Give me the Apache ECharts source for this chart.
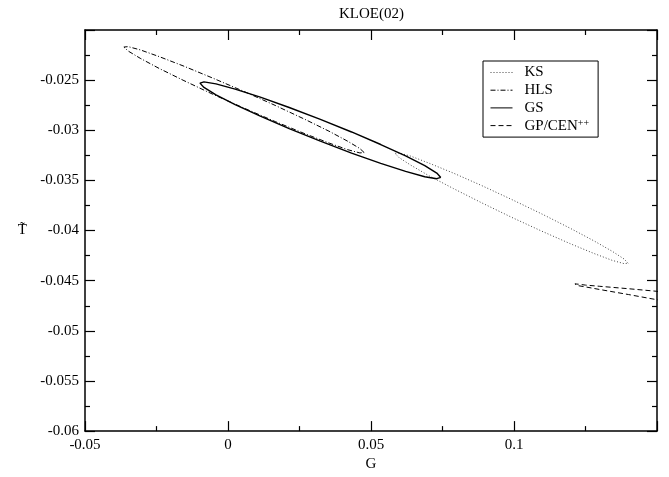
<!DOCTYPE html>
<html>
<head>
<meta charset="utf-8">
<script src="https://cdn.jsdelivr.net/npm/echarts@6/dist/echarts.min.js"></script>
<style>
  html, body { margin: 0; padding: 0; background: #fff; }
  #main { width: 669px; height: 477px; }
</style>
</head>
<body>
<div id="main"></div>
<script>
// contour points [G, T~]
const ksPoints = [
  [0.1399, -0.04326], [0.1385, -0.04284], [0.1344, -0.04208], [0.1279, -0.04102],
  [0.1195, -0.03975], [0.1097, -0.03834], [0.0991, -0.03689], [0.0886, -0.03550],
  [0.0788, -0.03427], [0.0703, -0.03328], [0.0639, -0.03258], [0.0598, -0.03226],
  [0.0584, -0.03230], [0.0598, -0.03272], [0.0639, -0.03348], [0.0703, -0.03454],
  [0.0788, -0.03581], [0.0886, -0.03722], [0.0991, -0.03867], [0.1097, -0.04006],
  [0.1195, -0.04129], [0.1279, -0.04228], [0.1344, -0.04298], [0.1385, -0.04330],
  [0.1399, -0.04326]
]
const hlsPoints = [
  [0.0476, -0.03222], [0.0461, -0.03182], [0.0419, -0.03110], [0.0353, -0.03009],
  [0.0266, -0.02887], [0.0165, -0.02752], [0.0056, -0.02613], [-0.0053, -0.02480],
  [-0.0154, -0.02361], [-0.0241, -0.02265], [-0.0307, -0.02198], [-0.0349, -0.02166],
  [-0.0364, -0.02170], [-0.0349, -0.02210], [-0.0307, -0.02282], [-0.0241, -0.02383],
  [-0.0154, -0.02505], [-0.0053, -0.02641], [0.0056, -0.02779], [0.0165, -0.02913],
  [0.0266, -0.03031], [0.0353, -0.03127], [0.0419, -0.03194], [0.0461, -0.03226],
  [0.0476, -0.03222]
]
const gsPoints = [
  [0.0744, -0.03470], [0.0730, -0.03427], [0.0688, -0.03353], [0.0621, -0.03256],
  [0.0534, -0.03142], [0.0432, -0.03017], [0.0323, -0.02891], [0.0214, -0.02773],
  [0.0113, -0.02670], [0.0025, -0.02590], [-0.0042, -0.02537], [-0.0084, -0.02517],
  [-0.0098, -0.02530], [-0.0084, -0.02573], [-0.0042, -0.02647], [0.0025, -0.02744],
  [0.0113, -0.02858], [0.0214, -0.02983], [0.0323, -0.03109], [0.0432, -0.03227],
  [0.0534, -0.03330], [0.0621, -0.03410], [0.0688, -0.03463], [0.0730, -0.03483],
  [0.0744, -0.03470]
]
// runs past the right edge, clipped by the frame
const gpPoints = [
  [0.17, -0.04655], [0.15, -0.04606], [0.14, -0.04580], [0.13, -0.04556],
  [0.125, -0.04544], [0.1225, -0.04535], [0.1213, -0.04532], [0.1225, -0.04550],
  [0.125, -0.04562], [0.13, -0.04588], [0.14, -0.04638], [0.15, -0.04690],
  [0.17, -0.04770]
]
const seriesNames = ['KS', 'HLS', 'GS', 'GP/CEN++']

const font = 'Liberation Serif'
const chart = echarts.init(document.getElementById('main'))

function frameAxis(pos, showLabel) {
  return {
    type: 'value',
    position: pos,
    axisLine: { show: true, onZero: false, lineStyle: { color: '#000', width: 1.5 } },
    axisTick: { show: true, inside: true, length: 10, lineStyle: { color: '#000', width: 1.2 } },
    minorTick: { show: true, splitNumber: 2, length: 5, lineStyle: { color: '#000', width: 1.2 } },
    splitLine: { show: false },
    axisLabel: { show: showLabel, color: '#000', fontFamily: font, fontSize: 15, showMaxLabel: false, margin: 6 }
  }
}

const xBottom = Object.assign(frameAxis('bottom', true), {
  min: -0.05, max: 0.15, interval: 0.05,
  name: 'G', nameLocation: 'middle', nameGap: 25,
  nameTextStyle: { color: '#000', fontFamily: font, fontSize: 15 }
})
const xTop = Object.assign(frameAxis('top', false), { min: -0.05, max: 0.15, interval: 0.05 })
const yLeft = Object.assign(frameAxis('left', true), {
  min: -0.06, max: -0.02, interval: 0.005,
  name: 'T\u0303', nameLocation: 'middle', nameGap: 58, nameRotate: 0,
  nameTextStyle: { color: '#000', fontFamily: font, fontSize: 15 }
})
const yRight = Object.assign(frameAxis('right', false), { min: -0.06, max: -0.02, interval: 0.005 })

function line(name, data, style) {
  return {
    name: name, type: 'line', data: data,
    xAxisIndex: 0, yAxisIndex: 0,
    showSymbol: false, symbol: 'none', clip: true,
    itemStyle: { color: '#000' },
    lineStyle: Object.assign({ color: '#000', width: 1 }, style)
  }
}

chart.setOption({
  animation: false,
  textStyle: { fontFamily: font },
  title: {
    text: 'KLOE(02)', left: 334, top: 2,
    textStyle: { color: '#000', fontFamily: font, fontSize: 15, fontWeight: 'normal' }
  },
  grid: { left: 85, right: 12, top: 30, bottom: 44 },
  legend: {
    data: seriesNames,
    orient: 'vertical', left: 483, top: 61,
    itemWidth: 22, itemHeight: 14, itemGap: 2.7,
    padding: [4, 9, 4, 7],
    borderColor: '#000', borderWidth: 1,
    itemStyle: { opacity: 0 },
    lineStyle: { width: 1 },
    formatter: function (n) { return n === 'GP/CEN++' ? 'GP/CEN{sup|++}' : n },
    textStyle: {
      color: '#000', fontFamily: font, fontSize: 15, lineHeight: 14,
      padding: [0, 0, 0, 7],
      rich: { sup: { fontSize: 10, verticalAlign: 'top', padding: [0, 0, 9, 0], fontFamily: font, color: '#000' } }
    }
  },
  xAxis: [xBottom, xTop],
  yAxis: [yLeft, yRight],
  series: [
    line('KS', ksPoints, { type: [1, 2], color: '#444' }),
    line('HLS', hlsPoints, { type: [5, 2, 1, 2] }),
    line('GS', gsPoints, { width: 1.4 }),
    line('GP/CEN++', gpPoints, { type: [5, 3] })
  ]
})
</script>
</body>
</html>
